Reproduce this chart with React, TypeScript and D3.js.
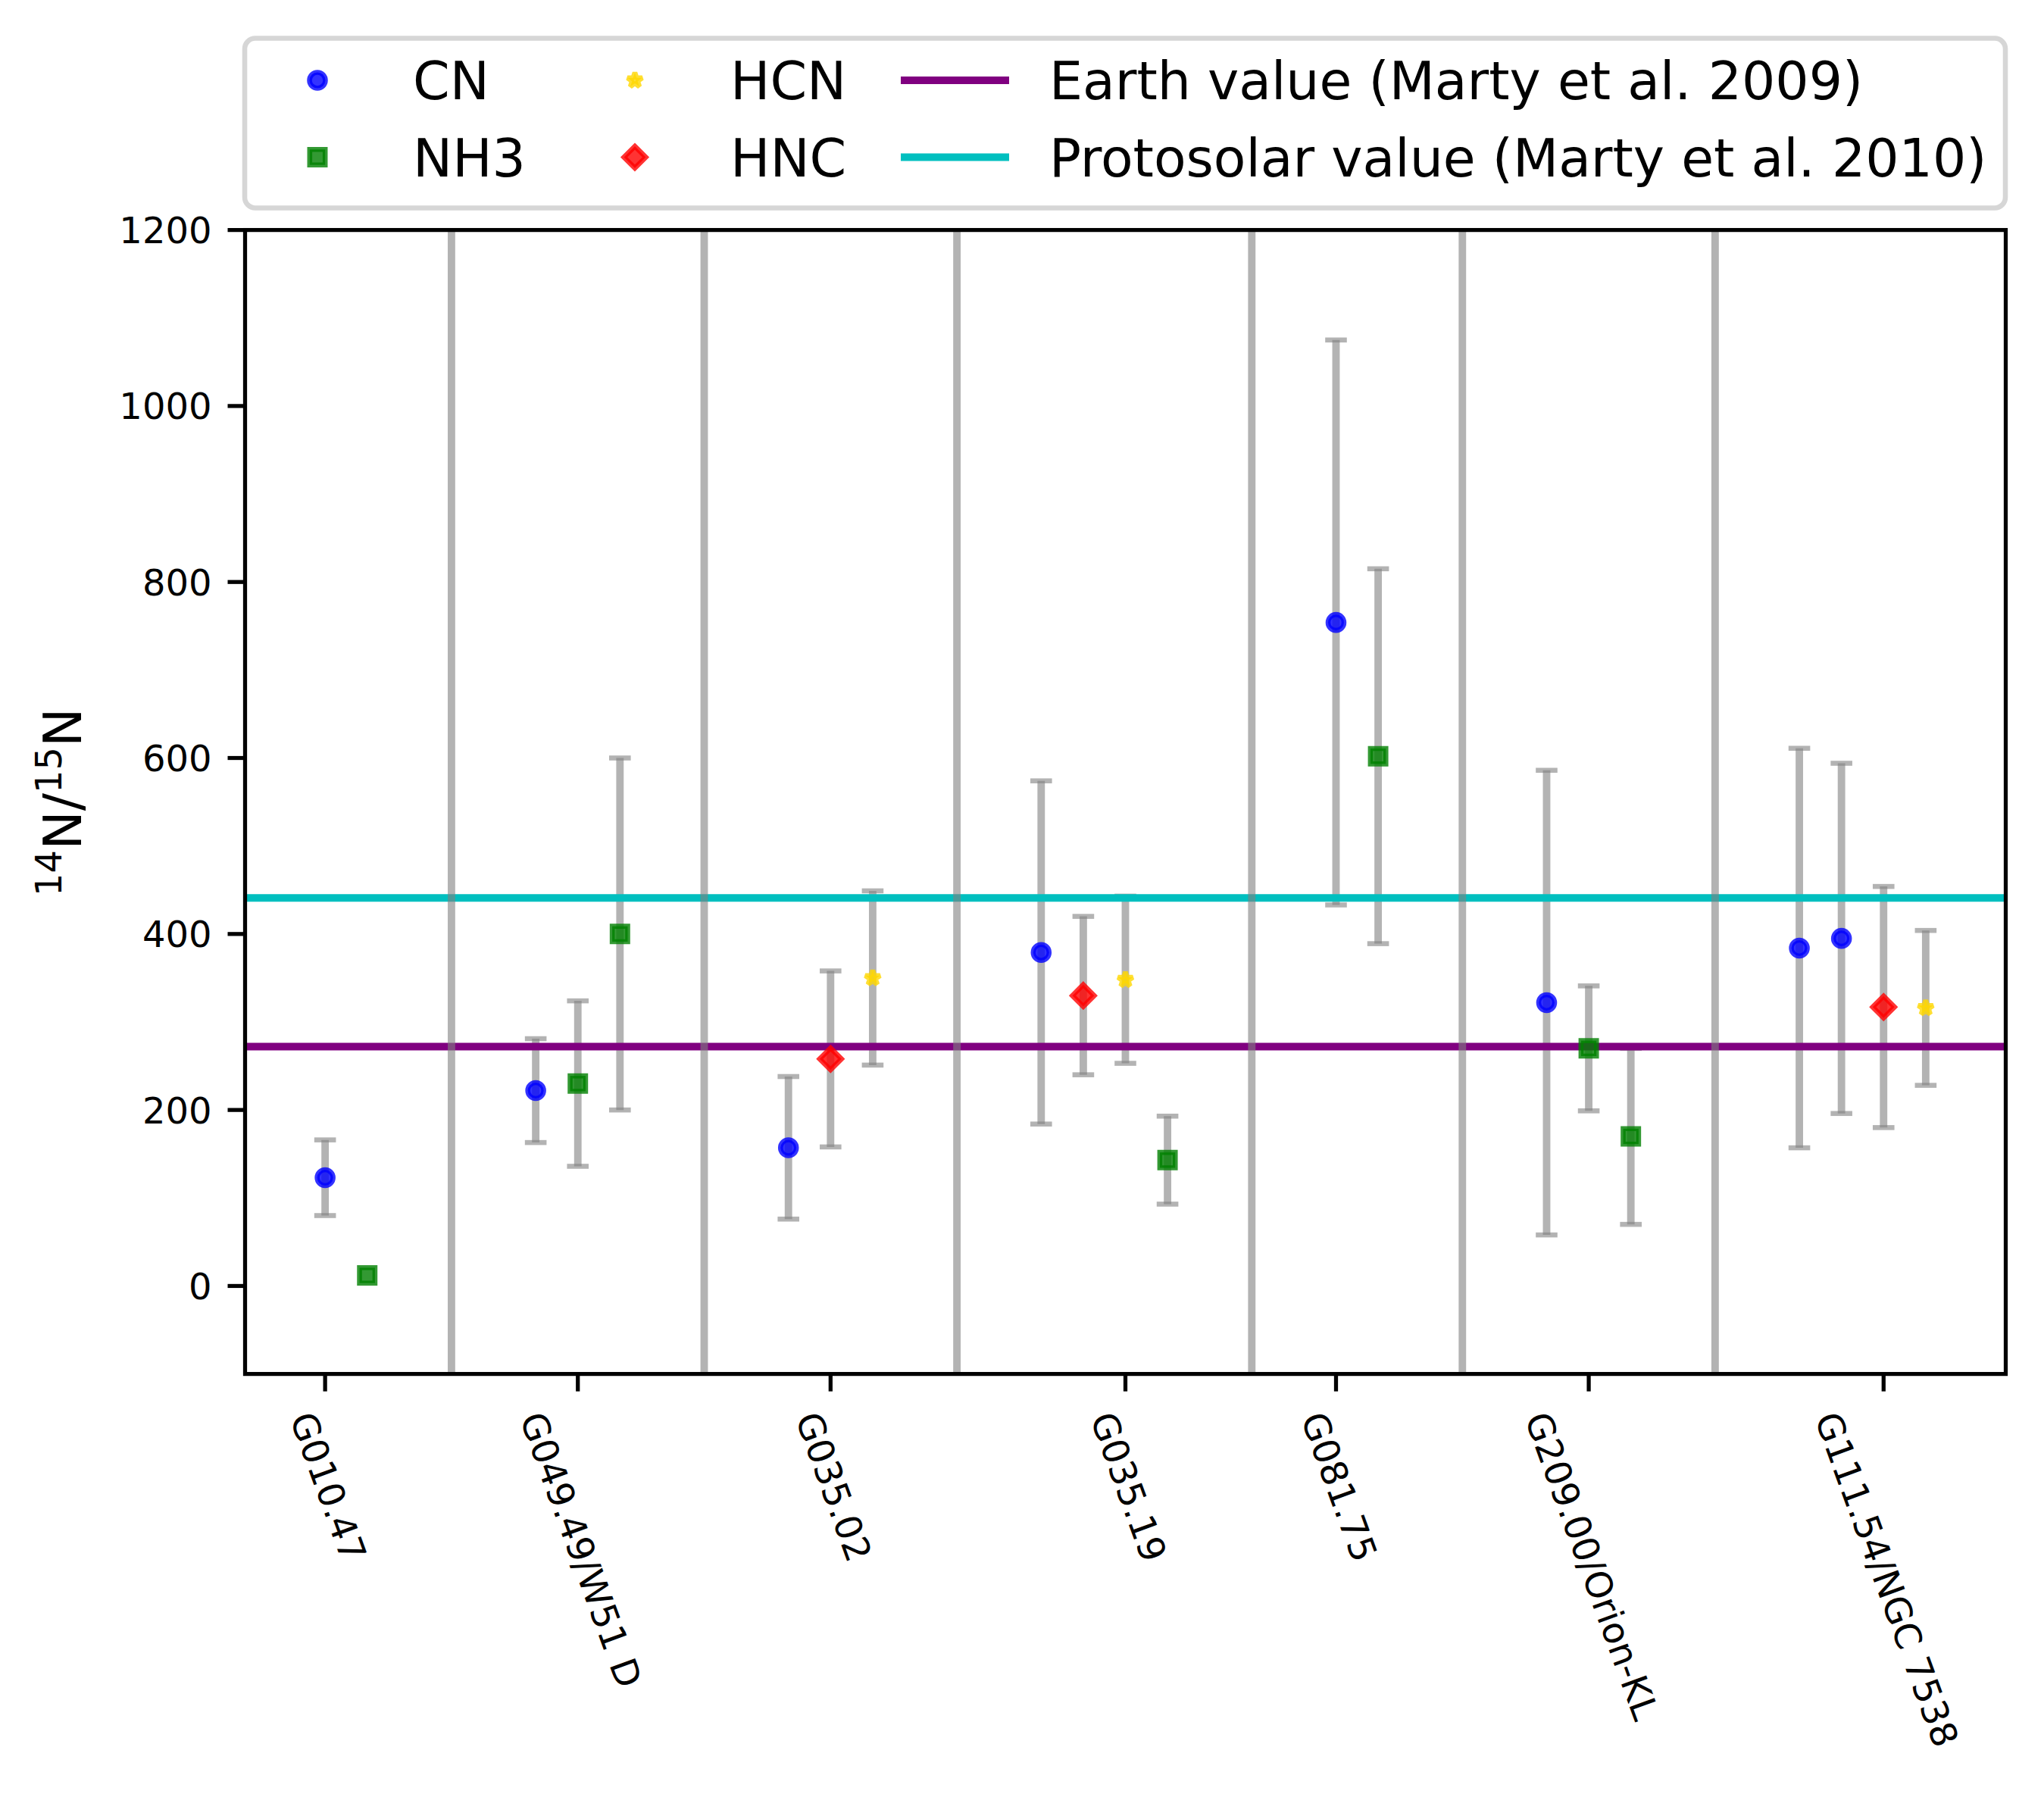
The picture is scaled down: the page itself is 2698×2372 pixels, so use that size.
import React, { useEffect, useRef } from "react";
import * as d3 from "d3";

// ---------------- data ----------------
const sources = [
  "G010.47",
  "G049.49/W51 D",
  "G035.02",
  "G035.19",
  "G081.75",
  "G209.00/Orion-KL",
  "G111.54/NGC 7538",
];
const sourceTickX = [0, 6, 12, 19, 24, 30, 37];
const separatorX = [3, 9, 15, 22, 27, 33];

const cnX = [0, 5, 11, 17, 24, 29, 35, 36];
const cnValues = [123, 222, 157, 379, 754, 322, 384, 395];
const cnErrors = [43, 59, 81, 195, 321, 264, 227, 199];

const nh3X = [1, 6, 7, 20, 25, 30, 31];
const nh3Values = [12, 230, 400, 143, 602, 270, 170];
const nh3Errors: (number | null)[] = [null, 94, 200, 50, 213, 71, 100];

const hcnX = [13, 19, 38];
const hcnValues = [350, 348, 316];
const hcnErrors = [99, 95, 88];

const hncX = [12, 18, 37];
const hncValues = [258, 330, 317];
const hncErrors = [100, 90, 137];

const earthValue = 272;
const protosolarValue = 441;

const yTicks = [0, 200, 400, 600, 800, 1000, 1200];
const xDomain: [number, number] = [-1.9, 39.9];
const yDomain: [number, number] = [-100, 1200];

type MarkerKind = "circle" | "square" | "star" | "diamond";
interface Series {
  name: string;
  x: number[];
  values: number[];
  errors: (number | null)[];
  color: string;
  marker: MarkerKind;
}

const series: Series[] = [
  { name: "CN", x: cnX, values: cnValues, errors: cnErrors, color: "#0000ff", marker: "circle" },
  { name: "NH3", x: nh3X, values: nh3Values, errors: nh3Errors, color: "#008000", marker: "square" },
  { name: "HCN", x: hcnX, values: hcnValues, errors: hcnErrors, color: "#ffd700", marker: "star" },
  { name: "HNC", x: hncX, values: hncValues, errors: hncErrors, color: "#ff0000", marker: "diamond" },
];

const refLines = [
  { name: "Earth value (Marty et al. 2009)", value: earthValue, color: "#800080" },
  { name: "Protosolar value (Marty et al. 2010)", value: protosolarValue, color: "#00bfbf" },
];

// ---------------- layout ----------------
const W = 2698;
const H = 2372;
const PLOT = { left: 323.5, right: 2647.5, top: 303.6, bottom: 1813.6 };
const FONT = "'DejaVu Sans', Verdana, sans-serif";
const TICK_FS = 48;
const LABEL_FS = 69.7;
const PT = 6.57;

function markerPath(kind: MarkerKind): string {
  const ms = 20.4;
  if (kind === "circle") {
    const p = d3.path();
    p.arc(0, 0, ms / 2 + 0.3, 0, Math.PI * 2);
    p.closePath();
    return p.toString();
  }
  if (kind === "square") {
    const h = ms / 2;
    return `M${-h},${-h}H${h}V${h}H${-h}Z`;
  }
  if (kind === "diamond") {
    const d = ms * 0.7071;
    return `M0,${-d}L${d},0L0,${d}L${-d},0Z`;
  }
  // star
  const ro = ms / 2;
  const ri = ro * 0.381966;
  const pts: string[] = [];
  for (let i = 0; i < 10; i++) {
    const r = i % 2 === 0 ? ro : ri;
    const a = -Math.PI / 2 + (i * Math.PI) / 5;
    pts.push(`${(r * Math.cos(a)).toFixed(2)},${(r * Math.sin(a)).toFixed(2)}`);
  }
  return "M" + pts.join("L") + "Z";
}

function drawMarker(g: any, kind: MarkerKind, color: string, x: number, y: number) {
  g.append("path")
    .attr("d", markerPath(kind))
    .attr("transform", `translate(${x},${y})`)
    .attr("fill", color)
    .attr("fill-opacity", 0.8)
    .attr("stroke", color)
    .attr("stroke-opacity", 0.8)
    .attr("stroke-width", PT)
    .attr("stroke-linejoin", kind === "star" ? "bevel" : kind === "circle" ? "round" : "miter");
}

export default function App() {
  const ref = useRef<SVGSVGElement | null>(null);

  useEffect(() => {
    const svg = d3.select(ref.current);
    svg.selectAll("*").remove();

    const x = d3.scaleLinear().domain(xDomain).range([PLOT.left, PLOT.right]);
    const y = d3.scaleLinear().domain(yDomain).range([PLOT.bottom, PLOT.top]);

    svg.append("rect").attr("x", 0).attr("y", 0).attr("width", W).attr("height", H).attr("fill", "#ffffff");

    const plot = svg.append("g");
    const errColor = "#808080";
    const errOpacity = 0.6;
    const errWidth = 1.5 * PT;
    const capHalf = 14.3;

    // error bars
    series.forEach((s) => {
      s.x.forEach((xv, i) => {
        const e = s.errors[i];
        if (e == null) return;
        const cx = x(xv);
        const y1 = y(s.values[i] + e);
        const y0 = y(s.values[i] - e);
        plot.append("line")
          .attr("x1", cx).attr("x2", cx).attr("y1", y1).attr("y2", y0)
          .attr("stroke", errColor).attr("stroke-opacity", errOpacity).attr("stroke-width", errWidth);
        [y1, y0].forEach((cy) => {
          plot.append("line")
            .attr("x1", cx - capHalf).attr("x2", cx + capHalf).attr("y1", cy).attr("y2", cy)
            .attr("stroke", errColor).attr("stroke-opacity", errOpacity).attr("stroke-width", PT);
        });
      });
    });

    // reference lines
    refLines.forEach((r) => {
      plot.append("line")
        .attr("x1", PLOT.left).attr("x2", PLOT.right)
        .attr("y1", y(r.value)).attr("y2", y(r.value))
        .attr("stroke", r.color).attr("stroke-width", 1.5 * PT);
    });

    // markers
    series.forEach((s) => {
      s.x.forEach((xv, i) => drawMarker(plot, s.marker, s.color, x(xv), y(s.values[i])));
    });

    // separators
    separatorX.forEach((sx) => {
      plot.append("line")
        .attr("x1", x(sx)).attr("x2", x(sx)).attr("y1", PLOT.top).attr("y2", PLOT.bottom)
        .attr("stroke", errColor).attr("stroke-opacity", errOpacity).attr("stroke-width", 1.5 * PT);
    });

    // spines
    svg.append("rect")
      .attr("x", PLOT.left).attr("y", PLOT.top)
      .attr("width", PLOT.right - PLOT.left).attr("height", PLOT.bottom - PLOT.top)
      .attr("fill", "none").attr("stroke", "#000").attr("stroke-width", 0.8 * PT)
      .attr("stroke-linejoin", "miter");

    const tickLen = 3.5 * PT;
    // y ticks
    const yAxis = svg.append("g");
    yTicks.forEach((t) => {
      const ty = y(t);
      yAxis.append("line")
        .attr("x1", PLOT.left - tickLen).attr("x2", PLOT.left).attr("y1", ty).attr("y2", ty)
        .attr("stroke", "#000").attr("stroke-width", 0.8 * PT);
      yAxis.append("text")
        .attr("x", PLOT.left - tickLen - 3.5 * PT + 2).attr("y", ty + 0.3645 * TICK_FS)
        .attr("text-anchor", "end").attr("font-family", FONT).attr("font-size", TICK_FS)
        .attr("fill", "#000").text(String(t));
    });

    // x ticks
    const xAxis = svg.append("g");
    const angle = 70;
    const rad = (angle * Math.PI) / 180;
    const yTop = PLOT.bottom + tickLen + 3.5 * PT;
    sources.forEach((name, i) => {
      const tx = x(sourceTickX[i]);
      xAxis.append("line")
        .attr("x1", tx).attr("x2", tx).attr("y1", PLOT.bottom).attr("y2", PLOT.bottom + tickLen)
        .attr("stroke", "#000").attr("stroke-width", 0.8 * PT);
      const t = xAxis.append("text")
        .attr("font-family", FONT).attr("font-size", TICK_FS).attr("fill", "#000").text(name);
      const w = (t.node() as SVGTextElement).getComputedTextLength();
      const h = TICK_FS * 1.0;
      const bh = w * Math.sin(rad) + h * Math.cos(rad);
      const cy = yTop + bh / 2;
      t.attr("x", -w / 2).attr("y", 0.26 * TICK_FS)
        .attr("transform", `translate(${tx},${cy}) rotate(${angle})`);
    });

    // y label
    const yl = svg.append("text")
      .attr("transform", `translate(107,${(PLOT.top + PLOT.bottom) / 2}) rotate(-90)`)
      .attr("text-anchor", "middle").attr("font-family", FONT).attr("font-size", 69).attr("fill", "#000");
    yl.append("tspan").attr("font-size", 48).attr("dy", -26).text("14");
    yl.append("tspan").attr("dy", 26).text("N/");
    yl.append("tspan").attr("font-size", 48).attr("dy", -26).text("15");
    yl.append("tspan").attr("dy", 26).text("N");

    // legend
    const leg = svg.append("g");
    leg.append("rect")
      .attr("x", 323).attr("y", 50.5).attr("width", 2647 - 323).attr("height", 274.5 - 50.5)
      .attr("rx", 14).attr("ry", 14)
      .attr("fill", "#ffffff").attr("fill-opacity", 0.8)
      .attr("stroke", "#cccccc").attr("stroke-opacity", 0.8).attr("stroke-width", PT);
    const rowY = [106, 207.5];
    const legText = (tx: number, ty: number, s: string) =>
      leg.append("text").attr("x", tx).attr("y", ty + 0.3645 * LABEL_FS)
        .attr("font-family", FONT).attr("font-size", LABEL_FS).attr("fill", "#000").text(s);
    // column 1: CN, NH3 ; column 2: HCN, HNC
    const colMarker = [419, 838];
    const colText = [545, 964];
    const order = [[0, 1], [2, 3]];
    order.forEach((col, ci) => {
      col.forEach((si, ri) => {
        const s = series[si];
        drawMarker(leg, s.marker, s.color, colMarker[ci], rowY[ri]);
        legText(colText[ci], rowY[ri], s.name);
      });
    });
    refLines.forEach((r, ri) => {
      leg.append("line")
        .attr("x1", 1189).attr("x2", 1332).attr("y1", rowY[ri]).attr("y2", rowY[ri])
        .attr("stroke", r.color).attr("stroke-width", 1.5 * PT);
      legText(1385, rowY[ri], r.name);
    });
  }, []);

  return (
    <svg
      ref={ref}
      width={W}
      height={H}
      viewBox={`0 0 ${W} ${H}`}
      style={{ position: "absolute", left: 0, top: 0, display: "block" }}
    />
  );
}
